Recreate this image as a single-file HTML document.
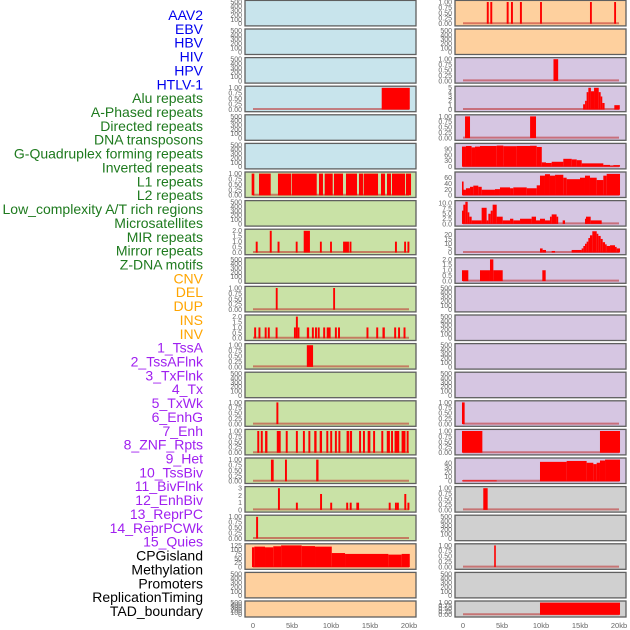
<!DOCTYPE html>
<html><head><meta charset="utf-8">
<style>
html,body{margin:0;padding:0;background:#fff;}
svg{display:block;font-family:"Liberation Sans",sans-serif;}
</style></head>
<body>
<svg id="chart" width="630" height="630" viewBox="0 0 630 630"></svg>
<script>
const trackLabels = ["AAV2","EBV","HBV","HIV","HPV","HTLV-1","Alu repeats","A-Phased repeats","Directed repeats","DNA transposons","G-Quadruplex forming repeats","Inverted repeats","L1 repeats","L2 repeats","Low_complexity A/T rich regions","Microsatellites","MIR repeats","Mirror repeats","Z-DNA motifs","CNV","DEL","DUP","INS","INV","1_TssA","2_TssAFlnk","3_TxFlnk","4_Tx","5_TxWk","6_EnhG","7_Enh","8_ZNF_Rpts","9_Het","10_TssBiv","11_BivFlnk","12_EnhBiv","13_ReprPC","14_ReprPCWk","15_Quies","CPGisland","Methylation","Promoters","ReplicationTiming","TAD_boundary"];
const labelGroups = [6,13,5,15,5];
const groupColors = ["#0000ee","#1e7a1e","#ffa500","#a020f0","#000000"];
const xTicks = [0,5,10,15,20];
const xTickLabels = ["0","5kb","10kb","15kb","20kb"];

const leftBg = ["b","b","b","b","b","b","g","g","g","g","g","g","g","g","g","g","g","g","g","p","p","p"];
const rightBg = ["p","p","l","l","l","l","l","l","l","l","l","l","l","l","l","l","l","r","r","r","r","r"];
const leftScale = ["e","e","e","b","e","e","b","e","two","e","b","two","b","e","b","b","b","three","b","s125","e","e"];
const rightScale = ["b","e","b","five","b","s90","s60","s10","s20","two","e","e","e","e","b","b","s40","b","e","b","e","b"];

const leftSegs = [
[],[],[],
[[16.5,20.1,1]],
[],[],
[[-0.17,0.17,1],[0.77,2.27,1],[3.2,4.87,1],[4.96,8.17,1],[8.46,8.97,1],[9.19,10.22,1],[10.38,11.54,1],[11.92,13.33,1],[13.59,14.1,1],[14.19,16.03,1],[16.41,16.92,1],[17.18,17.69,1],[17.82,19.49,1],[19.61,20.26,1]],
[],
[[0.35,0.6,1],[2.15,2.4,2],[3.15,3.4,1],[5.48,5.72,1],[6.5,7.3,2],[8.58,8.82,1],[9.88,10.12,1],[11.55,12.3,1],[12.38,12.62,1],[18.2,18.45,1],[19.38,19.62,1],[19.8,20.05,1]],
[],
[[2.92,3.16,1],[10.28,10.52,1]],
[[0.15,0.4,1],[0.7,0.95,1],[1.5,1.75,1],[1.9,2.15,1],[2.9,3.15,1],[5.25,5.5,1],[5.5,5.75,2],[5.75,5.95,1],[6.9,7.2,1],[7.55,7.8,1],[7.95,8.2,1],[8.3,8.55,1],[9.0,9.25,1],[9.45,9.95,1],[10.5,10.75,1],[10.9,11.15,1],[14.55,14.8,1],[15.8,16.05,1],[16.6,16.9,1],[18.1,18.35,1],[18.6,18.85,1],[19.3,19.55,1]],
[[6.9,7.7,1]],
[],
[[3.0,3.25,1]],
[[0.55,0.8,1],[1.0,1.25,1],[1.55,1.85,1],[3.05,3.55,1],[4.2,4.45,1],[5.5,5.75,1],[6.4,6.65,1],[7.1,7.35,1],[7.85,8.15,1],[8.55,8.85,1],[9.4,9.65,1],[9.9,10.15,1],[10.5,10.75,1],[10.95,11.2,1],[12.0,12.3,1],[12.4,12.7,1],[13.6,13.85,1],[14.1,14.35,1],[14.7,15.05,1],[15.4,15.65,1],[16.45,16.7,1],[17.15,17.55,1],[17.7,17.95,1],[18.15,18.75,1],[19.05,19.55,1],[19.7,19.95,1]],
[[2.3,2.65,1],[4.1,4.35,1],[8.1,8.4,1]],
[[3.2,3.45,3],[5.5,5.75,1],[8.6,8.85,2.2],[9.9,10.15,1],[11.95,12.2,1],[12.4,12.65,1],[13.25,13.6,1],[17.4,17.65,1],[18.2,18.45,1],[18.45,18.7,1],[19.4,19.65,2.2],[19.8,20.05,1]],
[[0.4,0.65,1]],
[[-0.13,0.17,114],[0.17,1.54,118],[1.54,2.6,114],[2.6,3.6,120],[3.6,6.24,125],[6.24,7.95,121],[7.95,10.1,118],[10.1,11.8,81],[11.8,17.35,76],[17.35,19.06,72],[19.06,20.1,76]],
[],[]
];

const rightSegs = [
[[3.05,3.3,1],[3.5,3.75,1],[5.6,5.85,1],[6.15,6.4,1],[7.3,7.55,1],[9.88,10.12,1],[16.28,16.52,1],[19.38,19.62,1]],
[],
[[11.6,12.2,1]],
[[15.4,15.65,1.2],[15.65,15.85,2],[15.85,16.07,4],[16.07,16.4,5],[16.4,16.8,4.2],[16.8,17.4,5],[17.4,17.65,4],[17.65,17.85,3],[17.85,18.15,1.5],[19.4,20.1,1]],
[[0.26,0.9,1],[8.6,9.36,1]],
[[-0.13,0.38,102],[0.38,1.1,105],[1.1,1.54,98],[1.54,2.18,102],[2.18,4.32,105],[4.32,5.17,107],[5.17,6.88,104],[6.88,8.59,105],[8.59,9.45,106],[9.45,10.1,100],[10.1,10.64,22],[10.64,11.37,19],[11.37,12.86,25],[12.86,13.94,40],[13.94,14.58,37],[14.58,15.22,33],[15.22,17.99,17],[17.99,18.85,9],[18.85,19.27,5],[19.27,20.13,8]],
[[-0.13,0.04,47],[0.04,0.38,19],[0.38,0.9,24],[0.9,1.32,29],[1.32,1.96,33],[1.96,2.4,29],[2.4,4.1,19],[4.1,4.74,21],[4.74,6.03,27],[6.03,6.45,24],[6.45,8.17,27],[8.17,9.45,24],[9.45,9.87,34],[9.87,10.51,67],[10.51,11.15,72],[11.15,11.8,67],[11.8,12.86,70],[12.86,13.29,60],[13.29,15.0,55],[15.0,15.64,60],[15.64,16.28,67],[16.28,17.14,60],[17.14,17.99,52],[17.99,18.42,67],[18.42,20.13,73]],
[[-0.13,0.04,6.4],[0.04,0.3,9.3],[0.3,0.6,10.7],[0.6,0.81,5.6],[0.81,1.11,3.5],[1.11,2.39,1.7],[2.39,3.03,7.8],[3.03,3.25,1.7],[3.25,3.55,4.9],[3.55,3.8,6.4],[3.8,4.32,9.3],[4.32,5.09,3.5],[5.09,6.03,1.7],[6.03,6.45,2.5],[6.45,7.31,1.7],[7.31,8.8,2.5],[8.8,9.36,3.5],[9.36,9.87,1.7],[9.87,10.51,2.5],[10.51,11.15,1.7],[11.15,11.37,3.5],[11.37,12.0,4.6],[12.0,12.2,3.5],[12.78,13.08,1.7],[15.64,15.77,2.5],[15.77,16.37,3.5],[16.37,17.78,1.7]],
[[9.87,10.21,4.5],[10.21,10.64,2.8],[11.37,11.8,1.7],[13.93,15.21,2.8],[15.21,15.43,4.5],[15.43,15.64,7.2],[15.64,15.85,9.7],[15.85,16.07,12],[16.07,16.28,16],[16.28,16.58,19],[16.58,17.14,23.5],[17.14,17.35,20.7],[17.35,17.65,18.3],[17.65,17.91,15],[17.91,18.21,11.4],[18.21,18.42,9],[18.42,18.85,7.2],[18.85,19.49,8],[19.49,19.7,6.2],[19.7,20.13,4.5]],
[[-0.13,0.68,1],[2.18,3.46,1],[3.46,3.89,2],[3.89,5.09,1],[10.17,10.6,1]],
[],[],[],[],
[[-0.13,0.21,1]],
[[-0.13,2.48,1],[17.56,20.13,1]],
[[-0.13,4.32,2],[9.87,13.29,43],[13.29,15.85,45],[15.85,16.71,41],[16.71,17.14,38],[17.14,17.56,41],[17.56,18.21,46],[18.21,20.13,48]],
[[2.6,3.16,1]],
[],
[[4.0,4.2,1]],
[],
[[9.87,20.13,1]]
];

const scaleMax = {e:500,b:1,two:2,three:3,five:5,s125:125,s90:110,s60:74,s10:10.5,s20:24,s40:48};
const scaleTicks = {e:[0,100,200,300,400,500],b:[0,0.25,0.5,0.75,1],two:[0,0.5,1,1.5,2],three:[0,1,2,3],five:[0,1,2,3,4,5],s125:[0,25,50,75,100,125],s90:[0,30,60,90],s60:[0,20,40,60],s10:[0,2.5,5,7.5,10],s20:[0,5,10,15,20],s40:[0,10,20,30,40]};
const scaleDigits = {e:0,b:2,two:1,three:0,five:0,s125:0,s90:0,s60:0,s10:1,s20:0,s40:0};

const bgColors = {b:"#c8e4ec",g:"#c9e2a6",p:"#fed09e",l:"#d6c6e2",r:"#d0d0d0"};
const NS = "http://www.w3.org/2000/svg";
const svg = document.getElementById("chart");
function mk(tag, attrs, parent){const e=document.createElementNS(NS,tag);for(const k in attrs)e.setAttribute(k,attrs[k]);(parent||svg).appendChild(e);return e;}

// labels
let li=0;
labelGroups.forEach((n,gi)=>{for(let k=0;k<n;k++){
  const t=mk("text",{x:203,y:(15+li*13.86+5).toFixed(1),"text-anchor":"end","font-size":"14",fill:groupColors[gi]});
  t.textContent=trackLabels[li];
  
  
  li++;}});

const cols = [{x0:245,x1:416,z:253,tickX:242,bg:leftBg,sc:leftScale,segs:leftSegs,name:'left'},
              {x0:455,x1:626,z:463,tickX:452,bg:rightBg,sc:rightScale,segs:rightSegs,name:'right'}];
const pxPerKb = 7.8;
function panelTop(i){return 0.4+i*28.6;}
function panelBot(i){return i===21?617:panelTop(i)+25.5;}

cols.forEach(c=>{
  const xs = kb=>c.z+kb*pxPerKb;
  for(let i=0;i<22;i++){
    const top=panelTop(i), bot=panelBot(i);
    const g=mk("g",{});
    
    
    mk("rect",{x:c.x0,y:top,width:c.x1-c.x0,height:bot-top,fill:bgColors[c.bg[i]],stroke:"#5f5f5f","stroke-width":"1.3"},g);
    const s=c.sc[i], max=scaleMax[s];
    const y0=bot-2.2, y1=top+1.6;
    const ys=v=>y0-(v/max)*(y0-y1);
    scaleTicks[s].forEach(v=>{
      const t=mk("text",{x:c.tickX,y:(ys(v)+2.4).toFixed(1),"text-anchor":"end","font-size":"7",fill:"#666"},g);
      t.textContent=v.toFixed(scaleDigits[s]);
      
      
    });
    if(s!=="e"){
      const ln=mk("line",{x1:xs(0),x2:xs(20),y1:y0-0.5,y2:y0-0.5,stroke:"rgba(190,40,40,0.55)","stroke-width":"2"},g);
      
      
    }
    c.segs[i].forEach(sg=>{
      const x=xs(sg[0]), w=Math.max(1.6,xs(sg[1])-xs(sg[0]));
      const r=mk("rect",{x:x.toFixed(2),y:ys(sg[2]).toFixed(2),width:w.toFixed(2),height:(y0-ys(sg[2])).toFixed(2),fill:"#ff0000"},g);
      
      
    });
  }
  xTicks.forEach((v,k)=>{
    const t=mk("text",{x:xs(v),y:628,"text-anchor":"middle","font-size":"7.5",fill:"#666"});
    t.textContent=xTickLabels[k];
    
    
  });
});
</script>
</body></html>
